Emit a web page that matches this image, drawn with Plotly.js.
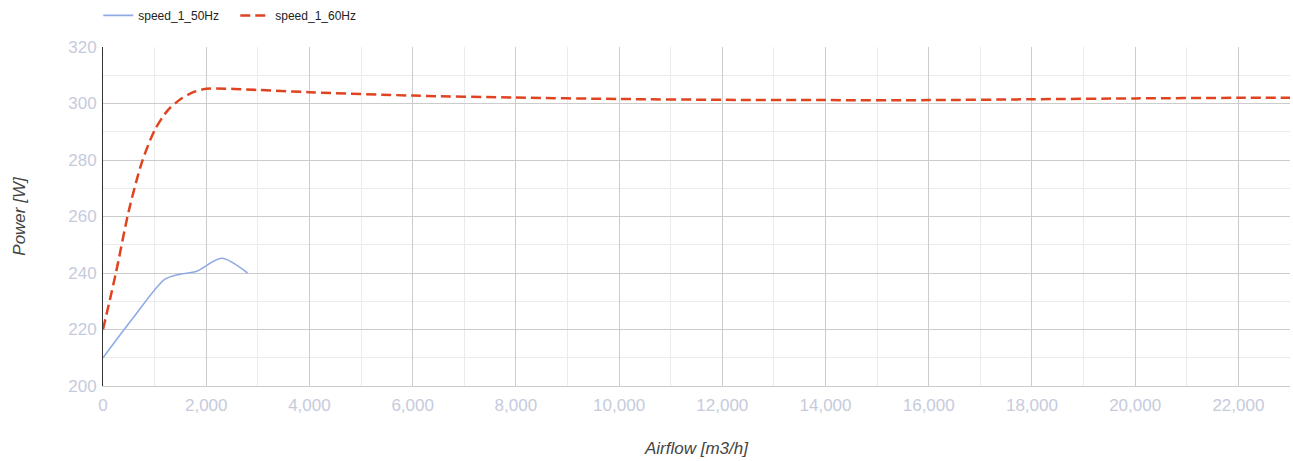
<!DOCTYPE html>
<html>
<head>
<meta charset="utf-8">
<script src="https://cdn.plot.ly/plotly-3.0.1.min.js"></script>
<style>html,body{margin:0;padding:0;background:#fff;}#chart{width:1293px;height:461px;}</style>
</head>
<body>
<div id="chart"></div>
<script>
const seriesNames = ["speed_1_50Hz", "speed_1_60Hz"];
const airflow50 = [0, 600, 1200, 1500, 1800, 2300, 2800];
const power50 = [210, 224.5, 237.8, 239.6, 240.5, 245.2, 240];
const airflow60 = [0, 250, 500, 750, 1000, 1250, 1500, 1750, 2000, 3000, 4000, 6000, 8000, 10000, 12000, 14000, 16000, 18000, 20000, 22000, 23000];
const power60 = [220, 240, 262, 279, 290.5, 297.5, 301.5, 304, 305.2, 304.8, 304, 302.8, 302.1, 301.6, 301.3, 301.2, 301.2, 301.5, 301.8, 302, 302];
const xTitle = "Airflow [m3/h]";
const yTitle = "Power [W]";

const traces = [
  {x: airflow50, y: power50, name: seriesNames[0], mode: "lines",
   line: {color: "#8fabe6", width: 1.6, shape: "spline", smoothing: 0.8}},
  {x: airflow60, y: power60, name: seriesNames[1], mode: "lines",
   line: {color: "#e0431f", width: 2.5, dash: "10px,5px", shape: "spline", smoothing: 0.8}}
];

const tickFont = {family: "Liberation Sans, Arial, sans-serif", size: 17, color: "#c6cbdc"};
const titleFont = {family: "Liberation Sans, Arial, sans-serif", size: 17, color: "#444", style: "italic"};

const layout = {
  width: 1293, height: 461,
  margin: {l: 103, r: 3, t: 47, b: 75},
  paper_bgcolor: "#fff", plot_bgcolor: "#fff",
  showlegend: true,
  legend: {orientation: "h", xref: "container", x: 0.076, xanchor: "left",
    yref: "container", y: 0.998, yanchor: "top",
    font: {family: "Liberation Sans, Arial, sans-serif", size: 12, color: "#222"},
    entrywidth: 92, entrywidthmode: "pixels",
    tracegroupgap: 0, bgcolor: "rgba(0,0,0,0)"},
  xaxis: {
    range: [0, 23000], dtick: 2000, tick0: 0, tickformat: ",d",
    showgrid: true, gridcolor: "#cccccc", gridwidth: 1,
    minor: {dtick: 1000, showgrid: true, gridcolor: "#ebebeb", gridwidth: 1},
    zeroline: false, showline: true, linecolor: "#cccccc", linewidth: 1,
    ticks: "", tickfont: tickFont, ticklabelstandoff: 4,
    title: {text: xTitle, font: titleFont, standoff: 27}
  },
  yaxis: {
    range: [200, 320], dtick: 20, tick0: 200,
    showgrid: true, gridcolor: "#cccccc", gridwidth: 1,
    minor: {dtick: 10, showgrid: true, gridcolor: "#ebebeb", gridwidth: 1},
    zeroline: false, showline: true, linecolor: "#333333", linewidth: 1,
    ticks: "", tickfont: tickFont, ticklabelstandoff: 2,
    title: {text: yTitle, font: titleFont, standoff: 38}
  }
};

Plotly.newPlot("chart", traces, layout, {displayModeBar: false, staticPlot: true});
</script>
</body>
</html>
